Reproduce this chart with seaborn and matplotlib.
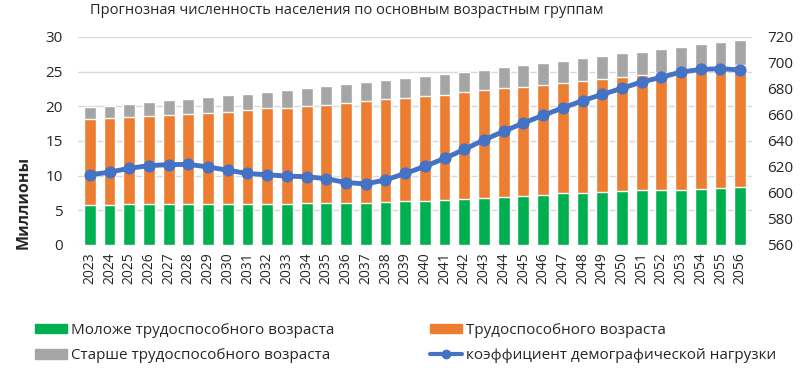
import numpy as np
import pandas as pd
import matplotlib
matplotlib.use("Agg")
import matplotlib.pyplot as plt
import seaborn as sns
from matplotlib.patches import Patch
from matplotlib.lines import Line2D

years = ["2023", "2024", "2025", "2026", "2027", "2028", "2029", "2030", "2031", "2032",
         "2033", "2034", "2035", "2036", "2037", "2038", "2039", "2040", "2041", "2042",
         "2043", "2044", "2045", "2046", "2047", "2048", "2049", "2050", "2051", "2052",
         "2053", "2054", "2055", "2056"]

# millions of people
young = [5.8, 5.8, 5.85, 5.85, 5.85, 5.85, 5.85, 5.85, 5.85, 5.9, 5.9,
         6.0, 6.0, 6.0, 6.1, 6.2, 6.3, 6.4, 6.5, 6.7, 6.8, 6.9, 7.1, 7.2,
         7.45, 7.5, 7.65, 7.75, 7.9, 7.95, 8.0, 8.1, 8.2, 8.3]
working = [12.4, 12.5, 12.65, 12.75, 12.9, 13.05, 13.25, 13.35, 13.55, 13.8, 13.9,
           14.0, 14.2, 14.5, 14.6, 14.8, 14.9, 15.05, 15.2, 15.3, 15.5, 15.7, 15.7, 15.85,
           15.95, 16.2, 16.25, 16.45, 16.6, 16.85, 17.1, 17.3, 17.4, 17.6]
older = [1.65, 1.8, 1.9, 2.0, 2.15, 2.2, 2.25, 2.4, 2.4, 2.4, 2.6,
         2.6, 2.7, 2.7, 2.8, 2.8, 2.9, 2.95, 3.0, 3.0, 3.0, 3.1, 3.2, 3.25,
         3.2, 3.3, 3.4, 3.45, 3.4, 3.5, 3.5, 3.55, 3.7, 3.7]
# demographic load coefficient (right axis)
load = [614, 616, 619, 621, 621.8, 622, 620, 617.5, 615, 614, 613, 612.5,
        611, 608, 607, 610, 615, 620.5, 626.6, 633.5, 640.8, 647.4, 653.8, 659.7,
        665.4, 671, 675.8, 680.5, 685.4, 689, 693, 695, 695.6, 694.6]

labels = ["Моложе трудоспособного возраста", "Трудоспособного возраста",
          "Старше трудоспособного возраста", "коэффициент демографической нагрузки"]

c_young, c_work, c_old, c_line = "#00B050", "#ED7D31", "#A5A5A5", "#4472C4"

df = pd.DataFrame({"year": years, "young": young, "working": working, "older": older})
df["top_work"] = df["young"] + df["working"]
df["total"] = df["top_work"] + df["older"]

sns.set_theme(style="white")
plt.rcParams["font.family"] = ["Open Sans", "DejaVu Sans"]

fig, ax = plt.subplots(figsize=(8, 3.81), dpi=100)
fig.subplots_adjust(left=0.0975, right=0.94, bottom=0.357, top=0.903)

bw = 0.6
sns.barplot(data=df, x="year", y="total", color=c_old, saturation=1, width=bw, ax=ax)
sns.barplot(data=df, x="year", y="top_work", color=c_work, saturation=1, width=bw, ax=ax)
sns.barplot(data=df, x="year", y="young", color=c_young, saturation=1, width=bw, ax=ax)

ax.set_ylim(0, 30)
ax.set_yticks(np.arange(0, 31, 5))
ax.yaxis.grid(True, color="#D9D9D9", linewidth=1)
ax.set_axisbelow(True)
ax.set_xlabel("")
ax.set_ylabel("")
ax.tick_params(axis="y", length=0, pad=11, labelsize=11, labelcolor="#262626")
ax.tick_params(axis="x", length=0, pad=5, labelsize=10, labelrotation=90, labelcolor="#262626")
for s in ax.spines.values():
    s.set_visible(False)

ax2 = ax.twinx()
sns.lineplot(x=np.arange(len(years)), y=load, color=c_line, linewidth=3.5,
             marker="o", markersize=8, markeredgecolor=c_line, ax=ax2)
ax2.set_ylim(560, 720)
ax2.set_yticks(np.arange(560, 721, 20))
ax2.tick_params(axis="y", length=0, pad=11, labelsize=11, labelcolor="#262626")
for s in ax2.spines.values():
    s.set_visible(False)
ax.set_xlim(-0.6, len(years) - 0.4)

fig.text(90 / 800, 1 - 11 / 381, "Прогнозная численность населения по основным возрастным группам",
         fontsize=10.5, color="#262626", ha="left", va="center")
fig.text(24 / 800, 1 - 202 / 381, "Миллионы", rotation=90, fontsize=11.5, fontweight="bold",
         color="#262626", ha="center", va="center")

handles = [Patch(color=c_young), Patch(color=c_old), Patch(color=c_work),
           Line2D([0], [0], color=c_line, linewidth=3, marker="o", markersize=6)]
leg_labels = [labels[0], labels[2], labels[1], labels[3]]
fig.legend(handles, leg_labels, loc="upper left", bbox_to_anchor=(21 / 800, 1 - 309 / 381),
           ncol=2, frameon=False, fontsize=11, handlelength=2.1, handleheight=0.6,
           handletextpad=0.3, columnspacing=6.2, labelspacing=0.68, labelcolor="#262626")

fig.savefig("out.png", dpi=100)
